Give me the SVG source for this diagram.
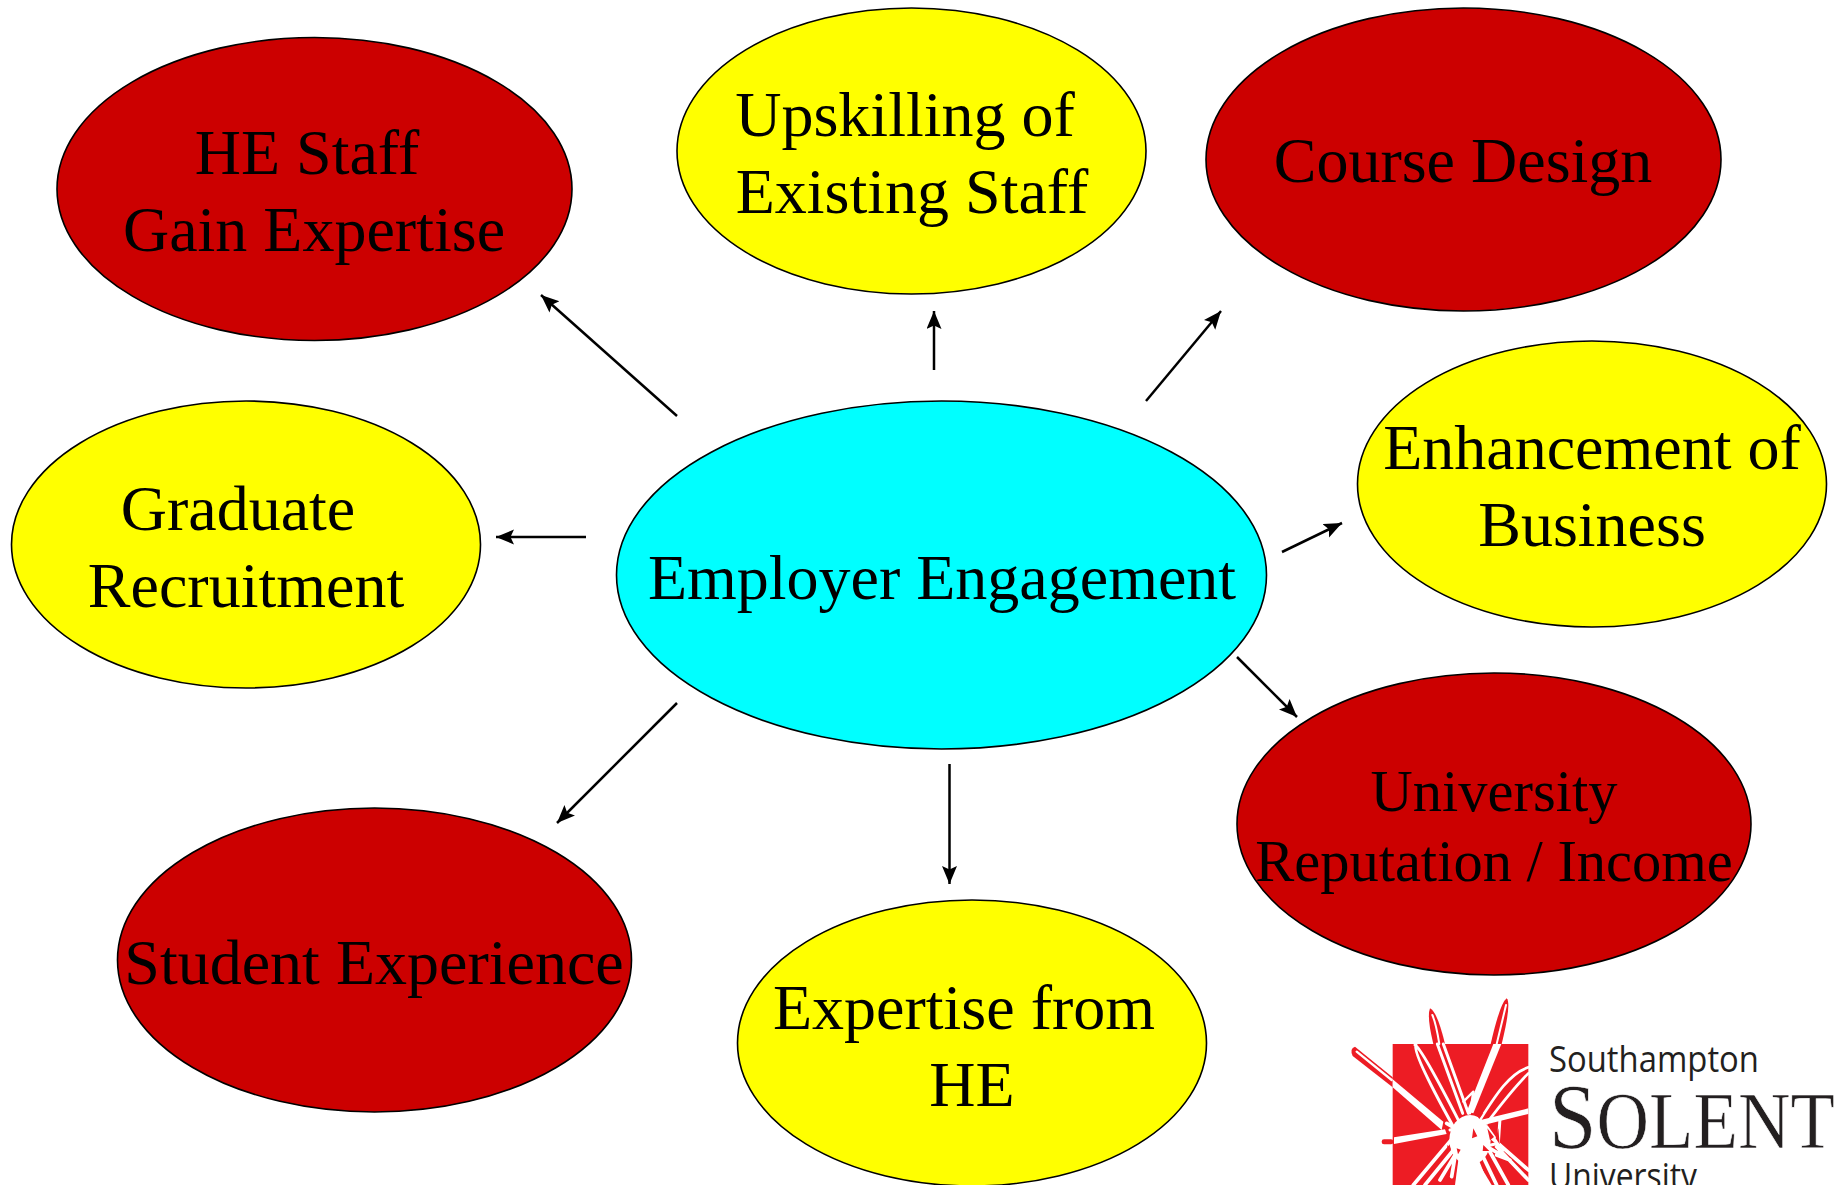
<svg xmlns="http://www.w3.org/2000/svg" width="1837" height="1185" viewBox="0 0 1837 1185">
<style>
.n{stroke:#000;stroke-width:1.6}
.r{fill:#cc0000}.y{fill:#ffff00}.c{fill:#00ffff}
.t{font-family:"Liberation Serif","Times New Roman",serif;font-size:64px;fill:#000}
.u{font-size:58.500px}
.a{stroke:#000;stroke-width:2.500;fill:none;marker-end:url(#ah)}
.w{stroke:#fff;fill:none;stroke-linecap:round;stroke-linejoin:round}
.s{font-family:"Open Sans","Noto Sans",sans-serif;fill:#231f20}
.o{font-family:"Liberation Serif",serif;fill:#231f20;stroke:#fff;stroke-width:.6}
</style>
<defs>
<marker id="ah" markerUnits="userSpaceOnUse" markerWidth="20" markerHeight="16" refX="18" refY="7.500" orient="auto"><path d="M0 0L18 7.500L0 15L3.500 7.500Z" fill="#000"/></marker>
</defs>
<rect width="1837" height="1185" fill="#fff"/>
<g id="connectors">
<line class="a" x1="677" y1="416" x2="541" y2="295"/>
<line class="a" x1="934" y1="370" x2="934" y2="311"/>
<line class="a" x1="1146" y1="401" x2="1221" y2="311"/>
<line class="a" x1="1282" y1="552" x2="1342" y2="523"/>
<line class="a" x1="586" y1="537" x2="496" y2="537"/>
<line class="a" x1="1237" y1="657" x2="1297" y2="717"/>
<line class="a" x1="949.500" y1="764" x2="949.500" y2="884"/>
<line class="a" x1="677" y1="703" x2="557" y2="823"/>
</g>
<g id="n-he-staff"><ellipse class="n r" cx="314.500" cy="189" rx="257.500" ry="151.500"/>
<text class="t" x="307" y="174" text-anchor="middle">HE Staff</text><text class="t" x="314" y="251" text-anchor="middle">Gain Expertise</text></g>
<g id="n-upskilling"><ellipse class="n y" cx="911.500" cy="151" rx="234.500" ry="143"/>
<text class="t" x="905" y="136" text-anchor="middle">Upskilling of</text><text class="t" x="912" y="213" text-anchor="middle">Existing Staff</text></g>
<g id="n-course"><ellipse class="n r" cx="1463.500" cy="159.500" rx="257.500" ry="151.500"/>
<text class="t" x="1463" y="182" text-anchor="middle">Course Design</text></g>
<g id="n-enhancement"><ellipse class="n y" cx="1592" cy="484" rx="234.500" ry="143"/>
<text class="t" x="1592" y="469" text-anchor="middle">Enhancement of</text><text class="t" x="1592" y="546" text-anchor="middle">Business</text></g>
<g id="n-graduate"><ellipse class="n y" cx="246" cy="544.500" rx="234.500" ry="143.500"/>
<text class="t" x="238" y="530" text-anchor="middle">Graduate</text><text class="t" x="246" y="607" text-anchor="middle">Recruitment</text></g>
<g id="n-employer"><ellipse class="n c" cx="941.500" cy="575" rx="325" ry="174"/>
<text class="t" x="942" y="599" text-anchor="middle">Employer Engagement</text></g>
<g id="n-university"><ellipse class="n r" cx="1494" cy="824" rx="257" ry="151"/>
<text class="t u" x="1494" y="811" text-anchor="middle">University</text><text class="t u" x="1494" y="881" text-anchor="middle">Reputation / Income</text></g>
<g id="n-student"><ellipse class="n r" cx="374.500" cy="960" rx="257" ry="152"/>
<text class="t" x="374" y="984" text-anchor="middle">Student Experience</text></g>
<g id="n-expertise"><ellipse class="n y" cx="972" cy="1043" rx="234.500" ry="143"/>
<text class="t" x="964" y="1029" text-anchor="middle">Expertise from</text><text class="t" x="972" y="1106" text-anchor="middle">HE</text></g>
<g id="logo">
<g transform="translate(1330 980) scale(.33333)">
<rect x="188" y="192" width="407" height="423" fill="#ed1c24"/>
<g fill="#ed1c24">
<path d="M188 292L75 200Q58 205 68 228L188 322Z"/>
<path d="M300 85Q322 95 345 192L310 192Q290 110 300 85Z"/>
<path d="M530 55Q545 70 515 192L482 192Q510 70 530 55Z"/>
<rect x="155" y="478" width="35" height="15" rx="7"/>
</g>
<g class="w">
<path d="M80 215L185 300" stroke-width="7"/>
<path d="M307 105Q318 130 328 192" stroke-width="6"/>
<path d="M528 75Q520 110 500 192" stroke-width="6"/>
</g>
<path d="M188 298L340 425L335 450L188 322Z" fill="#fff"/>
<path d="M192 472L345 448L350 462L192 492Z" fill="#fff"/>
<path d="M490 192L514 192L430 400L410 395Z" fill="#fff"/>
<path d="M595 385L595 402L440 440L430 425Z" fill="#fff"/>
<g class="w">
<path d="M255 195Q275 205 390 430M258 195Q245 215 370 440" stroke-width="9"/>
<path d="M322 192L398 400M340 192L415 400" stroke-width="9"/>
<path d="M595 262C540 280 500 340 450 420M595 280C555 320 530 350 470 430" stroke-width="8"/>
<path d="M400 365L430 335L420 400" stroke-width="7"/>
<path d="M250 615L380 460M285 615L395 480M330 600L390 500M365 590L375 530M440 615L410 520M470 615L425 500M500 615L440 490M535 615L460 480M595 570L470 460M595 600L500 500M350 430L540 540L500 525" stroke-width="11"/>
<path d="M360 450L510 415L505 490L380 520M470 440L520 510" stroke-width="9"/>
</g>
<ellipse cx="420" cy="480" rx="62" ry="75" fill="#fff"/>
<path d="M385 540L440 540L485 615L375 615Z" fill="#fff"/>
<path d="M430 445l12 24-16 6ZM472 445l20 26-12 10ZM460 495l18 18-20 0ZM352 495l10 10-10 12ZM440 405l20-6-12 18ZM505 445l4 48-12-18ZM380 505l12 4-8 14Z" fill="#ed1c24"/>
</g>
<text class="s" x="1549" y="1072" font-size="37" textLength="210" lengthAdjust="spacingAndGlyphs">Southampton</text>
<text class="o" x="1549" y="1148" font-size="94" textLength="286" lengthAdjust="spacingAndGlyphs">S<tspan font-size="80">OLENT</tspan></text>
<text class="s" x="1549" y="1189" font-size="37" textLength="148" lengthAdjust="spacingAndGlyphs">University</text>
</g>
</svg>
